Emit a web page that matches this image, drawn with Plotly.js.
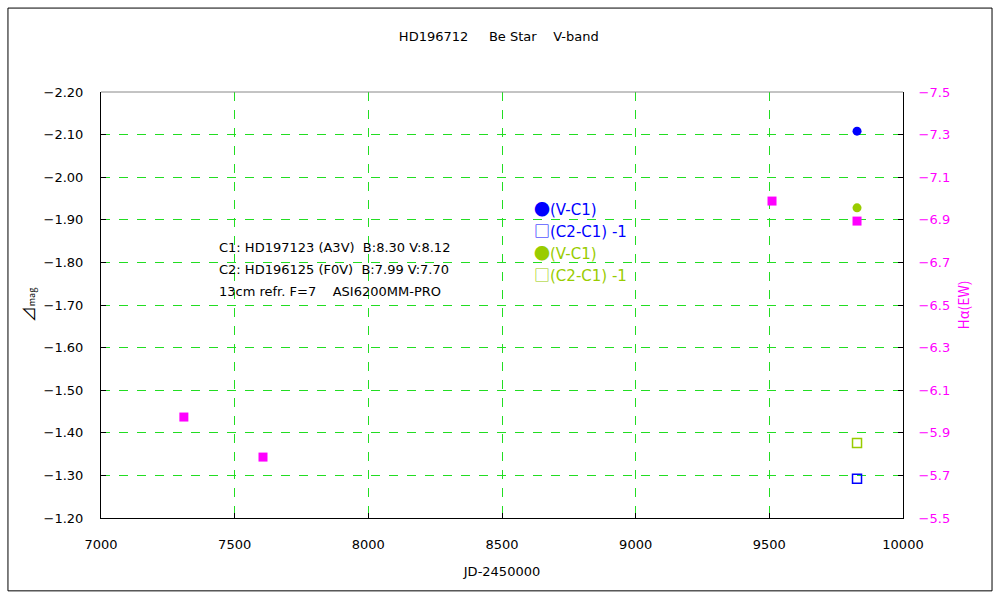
<!DOCTYPE html>
<html>
<head>
<meta charset="utf-8">
<script src="https://cdn.plot.ly/plotly-3.0.1.min.js"></script>
<style>html,body{margin:0;padding:0;background:#fff;}#chart{width:1000px;height:600px;}</style>
</head>
<body>
<div id="chart"></div>
<script>
// ---- data ----
const jdVC1Blue = [9828];
const magVC1Blue = [-2.108];
const jdC2C1Blue = [9828];
const magC2C1Blue = [-1.292];
const jdVC1Green = [9828];
const magVC1Green = [-1.928];
const jdC2C1Green = [9828];
const magC2C1Green = [-1.376];
const jdHalpha = [7310, 7606, 9510, 9828];
const ewHalpha = [-5.974, -5.786, -6.988, -6.894];
const legendNames = ["(V-C1)", "(C2-C1) -1", "(V-C1)", "(C2-C1) -1"];
const legendGlyphs = ["\u25cf", "\u25a1", "\u25cf", "\u25a1"];
const titleText = "HD196712\u00a0\u00a0\u00a0\u00a0\u00a0Be Star\u00a0\u00a0\u00a0\u00a0V-band";
const noteLines = [
  "C1: HD197123 (A3V)  B:8.30 V:8.12",
  "C2: HD196125 (F0V)  B:7.99 V:7.70",
  "13cm refr. F=7    ASI6200MM-PRO"
];

const BLUE = "#0000ff", GREEN = "#99cc00", MAG = "#ff00ff", GRID = "#22dd22";
const FONT = "'DejaVu Sans', 'Noto Sans CJK JP', sans-serif";
const LFONT = "'Noto Sans CJK JP', 'DejaVu Sans', sans-serif";
const legendColors = [BLUE, BLUE, GREEN, GREEN];

const traces = [
  {x: jdVC1Blue, y: magVC1Blue, name: legendNames[0], mode: "markers", type: "scatter",
   marker: {symbol: "circle", size: 9, color: BLUE}},
  {x: jdC2C1Blue, y: magC2C1Blue, name: legendNames[1], mode: "markers", type: "scatter",
   marker: {symbol: "square-open", size: 9, color: BLUE, line: {width: 1.5, color: BLUE}}},
  {x: jdVC1Green, y: magVC1Green, name: legendNames[2], mode: "markers", type: "scatter",
   marker: {symbol: "circle", size: 9, color: GREEN}},
  {x: jdC2C1Green, y: magC2C1Green, name: legendNames[3], mode: "markers", type: "scatter",
   marker: {symbol: "square-open", size: 9, color: GREEN, line: {width: 1.5, color: GREEN}}},
  {x: jdHalpha, y: ewHalpha, name: "H\u03b1(EW)", yaxis: "y2", mode: "markers", type: "scatter",
   marker: {symbol: "square", size: 9, color: MAG}}
];

const annotations = [];
// legend drawn as text
legendNames.forEach((n, i) => {
  annotations.push({
    xref: "paper", yref: "paper", x: 0.537, y: 0.728 - i * 0.0516, xanchor: "left", yanchor: "middle",
    showarrow: false, align: "left",
    text: '<span style="font-family:\'Noto Sans CJK JP\';font-size:16px">' + legendGlyphs[i] + '</span>' + n,
    font: {family: FONT, size: 15, color: legendColors[i]}
  });
});
// notes
noteLines.forEach((t, i) => {
  annotations.push({
    xref: "paper", yref: "paper", x: 0.145, y: 0.636 - i * 0.0516, xanchor: "left", yanchor: "middle",
    showarrow: false, align: "left", text: t.replace(/ /g, "\u00a0"),
    font: {family: FONT, size: 13, color: "#000"}
  });
});

const layout = {
  width: 1000, height: 600,
  margin: {l: 101, r: 97, t: 92, b: 82},
  paper_bgcolor: "#fff", plot_bgcolor: "#fff",
  font: {family: FONT, size: 13, color: "#000"},
  showlegend: false,
  title: {text: titleText, x: 0.496, xref: "paper", y: 0.947, yref: "container",
          xanchor: "center", font: {family: FONT, size: 13, color: "#000"}},
  xaxis: {
    range: [7000, 10000], tick0: 7000, dtick: 500, tickformat: "d",
    showgrid: true, gridcolor: GRID, griddash: "dash", gridwidth: 1,
    zeroline: false, showline: true, linecolor: "#000", linewidth: 1,
    ticks: "inside", ticklen: 5, tickcolor: "#000", ticklabelstandoff: 14,
    tickfont: {family: FONT, size: 13, color: "#000"},
    title: {text: "JD-2450000", font: {family: FONT, size: 13, color: "#000"}, standoff: 16}
  },
  yaxis: {
    range: [-1.2, -2.2], tick0: -2.2, dtick: 0.1, tickformat: ".2f",
    showgrid: true, gridcolor: GRID, griddash: "dash", gridwidth: 1,
    zeroline: false, showline: true, linecolor: "#000", linewidth: 1,
    ticks: "inside", ticklen: 5, tickcolor: "#000", ticklabelstandoff: 14,
    tickfont: {family: FONT, size: 13, color: "#000"},
    title: {text: "\u22bf<span style=\"font-size:9px\">mag</span>", font: {family: LFONT, size: 16, color: "#000"}, standoff: 3}
  },
  yaxis2: {
    overlaying: "y", side: "right",
    range: [-5.5, -7.5], tick0: -7.5, dtick: 0.2, tickformat: ".1f",
    showgrid: false, zeroline: false, showline: true, linecolor: "#000", linewidth: 1,
    ticks: "inside", ticklen: 5, tickcolor: "#000", ticklabelstandoff: 12,
    tickfont: {family: FONT, size: 13, color: MAG},
    title: {text: "H\u03b1(EW)", font: {family: LFONT, size: 14, color: MAG}, standoff: 10}
  },
  annotations: annotations,
  shapes: [
    {type: "line", xref: "paper", yref: "paper", x0: 0, x1: 1, y0: 1, y1: 1,
     line: {color: "#888", width: 1}},
    {type: "rect", xref: "paper", yref: "paper", x0: -0.116, x1: 1.111, y0: -0.171, y1: 1.197,
     line: {color: "#000", width: 1}, fillcolor: "rgba(0,0,0,0)"}
  ]
};

Plotly.newPlot("chart", traces, layout, {displayModeBar: false, staticPlot: true});
</script>
</body>
</html>
